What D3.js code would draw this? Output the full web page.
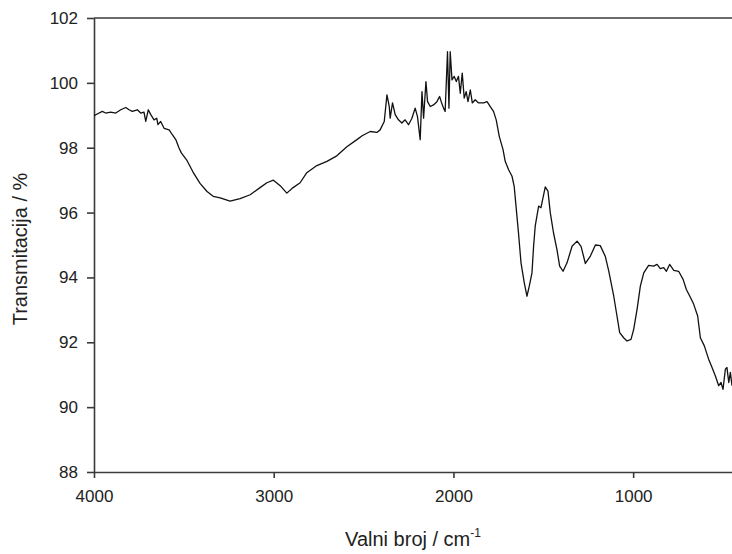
<!DOCTYPE html>
<html>
<head>
<meta charset="utf-8">
<script src="https://cdn.jsdelivr.net/npm/d3@7"></script>
<style>
  body { margin: 0; background: #fff; }
  svg { display: block; font-family: "Liberation Sans", Arial, sans-serif; }
  .axis path, .axis line { stroke: #3a3a3a; stroke-width: 1.6; }
  .axis text { font-size: 17px; fill: #222; }
</style>
</head>
<body>
<svg></svg>
<script>
// wavenumber (cm-1) and transmittance (%)
var wavenumbers = [4000,3982,3954,3935,3907,3879,3851,3823,3805,3787,3759,3740,3722,3712,3698,3684,3666,3651,3644,3629,
  3610,3582,3564,3545,3527,3514,3482,3449,3410,3371,3337,3298,3243,3187,3131,3076,3038,3002,2964,2927,
  2892,2853,2816,2760,2704,2649,2593,2537,2508,2463,2426,2408,2385,2370,2357,2352,2339,2324,2306,2287,
  2269,2250,2231,2213,2200,2185,2175,2166,2153,2144,2129,2111,2092,2077,2068,2055,2046,2033,2025,2018,
  2008,1996,1984,1972,1962,1951,1940,1929,1919,1906,1895,1879,1860,1832,1813,1795,1777,1762,1745,1724,
  1712,1693,1674,1662,1650,1638,1624,1606,1591,1578,1563,1554,1545,1526,1513,1489,1474,1461,1443,1424,
  1409,1390,1368,1340,1312,1290,1266,1238,1210,1183,1155,1136,1108,1090,1075,1053,1034,1012,997,978,
  960,941,914,886,867,849,830,815,797,774,747,722,704,681,663,641,626,604,580,561,
  543,524,511,500,487,478,468,459,450];
var transmittance = [98.99,99.04,99.12,99.07,99.10,99.07,99.17,99.24,99.17,99.12,99.17,99.07,99.10,98.81,99.17,99.02,98.86,98.91,98.71,98.81,
  98.60,98.55,98.40,98.25,97.99,97.84,97.60,97.25,96.90,96.65,96.50,96.45,96.35,96.43,96.55,96.77,96.92,97.00,96.83,96.60,
  96.77,96.92,97.23,97.45,97.58,97.75,98.03,98.25,98.37,98.50,98.47,98.55,98.81,99.63,99.27,98.91,99.38,99.02,98.86,98.76,
  98.86,98.71,98.91,99.22,98.96,98.25,99.73,98.91,100.04,99.42,99.27,99.32,99.42,99.58,99.42,99.22,99.12,100.96,99.22,100.96,
  100.09,100.20,100.04,100.20,99.68,100.30,99.53,99.73,99.42,99.78,99.38,99.48,99.38,99.38,99.42,99.27,99.12,98.86,98.35,97.94,
  97.58,97.32,97.12,96.81,96.09,95.37,94.45,93.84,93.42,93.73,94.14,94.96,95.58,96.20,96.15,96.79,96.66,95.99,95.37,94.86,
  94.35,94.19,94.45,94.96,95.12,94.96,94.43,94.66,95.00,94.98,94.65,94.20,93.42,92.81,92.30,92.14,92.04,92.09,92.40,93.02,
  93.73,94.14,94.37,94.35,94.40,94.27,94.30,94.19,94.40,94.22,94.19,93.94,93.63,93.38,93.17,92.81,92.14,91.89,91.48,91.22,
  90.97,90.66,90.76,90.55,91.17,91.22,90.76,91.07,90.66];
var xTicks = [4000,3000,2000,1000];
var yTicks = [88,90,92,94,96,98,100,102];

var screen =
{
  width:732,
  height:554
};

var margins =
{
  top: 18,
  bottom: 82,
  left: 94,
  right: 0
};

var width = screen.width - margins.left - margins.right;
var height = screen.height - margins.top - margins.bottom;

var svg = d3.select("svg")
            .attr("width",screen.width)
            .attr("height",screen.height);

var xScale = d3.scaleLinear()
               .domain([4000,450])
               .range([0,width]);
var yScale = d3.scaleLinear()
               .domain([88,102])
               .range([height,0]);

var xAxis = d3.axisBottom()
              .scale(xScale)
              .tickValues(xTicks)
              .tickFormat(d3.format("d"))
              .tickSizeInner(6)
              .tickSizeOuter(0)
              .tickPadding(12);
var yAxis = d3.axisLeft()
              .scale(yScale)
              .tickValues(yTicks)
              .tickFormat(d3.format("d"))
              .tickSizeInner(7)
              .tickSizeOuter(0)
              .tickPadding(9);

var plot = svg.append("g")
              .attr("transform","translate("+margins.left+","+margins.top+")");

// top frame line
plot.append("line")
    .attr("x1",0)
    .attr("x2",width)
    .attr("y1",0)
    .attr("y2",0)
    .attr("stroke","#3a3a3a")
    .attr("stroke-width",1.6);

plot.append("g").classed("axis",true)
    .attr("transform","translate(0,"+height+")")
    .call(xAxis);

plot.append("g").classed("axis",true)
    .call(yAxis);

var points = wavenumbers.map(function(w,i){ return {w:w, t:transmittance[i]}; });

var line = d3.line()
             .x(function(d){ return xScale(d.w); })
             .y(function(d){ return yScale(d.t); });

plot.append("path")
    .datum(points)
    .attr("d",line)
    .attr("fill","none")
    .attr("stroke","#111")
    .attr("stroke-width",1.3)
    .attr("stroke-linejoin","round");

// axis titles
svg.append("text")
   .attr("transform","translate(27,249) rotate(-90)")
   .attr("text-anchor","middle")
   .style("font-size","20px")
   .attr("fill","#222")
   .text("Transmitacija / %");

var xTitle = svg.append("text")
   .attr("x",margins.left+width/2)
   .attr("y",546)
   .attr("text-anchor","middle")
   .style("font-size","20px")
   .attr("fill","#222");
xTitle.append("tspan").text("Valni broj / cm");
xTitle.append("tspan")
      .attr("dy",-9)
      .style("font-size","12px")
      .text("-1");
</script>
</body>
</html>
